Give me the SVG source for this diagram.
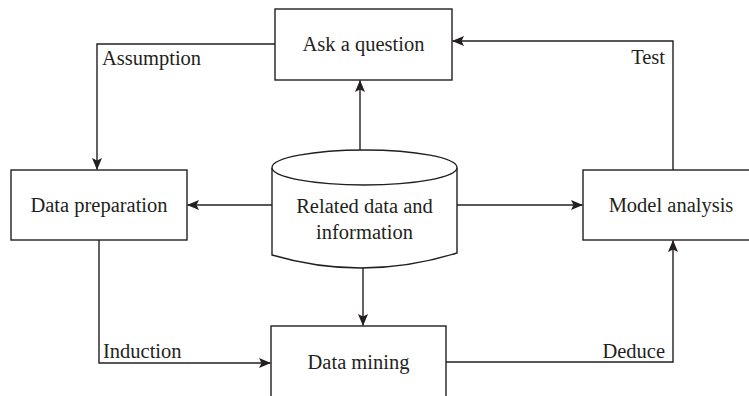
<svg xmlns="http://www.w3.org/2000/svg" width="749" height="396" viewBox="0 0 749 396">
  <style>
    .box { fill: #ffffff; stroke: #231f20; stroke-width: 1.4; }
    .link { fill: none; stroke: #231f20; stroke-width: 1.4; }
    .label { font-family: "Liberation Serif", "Times New Roman", serif; font-size: 20.5px; fill: #231f20; }
    .mid { text-anchor: middle; }
    .end { text-anchor: end; }
  </style>
  <defs>
    <marker id="arrow" viewBox="0 0 12 10" refX="11.5" refY="5" markerWidth="12" markerHeight="10" markerUnits="userSpaceOnUse" orient="auto">
      <path d="M0,0 L12,5 L0,10 L2.5,5 Z" fill="#231f20"/>
    </marker>
  </defs>
  <rect width="749" height="396" fill="#ffffff"/>

  <g id="connectors">
    <!-- Ask a question -> Data preparation (Assumption) -->
    <path class="link" d="M275,44 H97 V169.5" marker-end="url(#arrow)"/>
    <!-- Model analysis -> Ask a question (Test) -->
    <path class="link" d="M673,171 V41 H452.5" marker-end="url(#arrow)"/>
    <!-- Data preparation -> Data mining (Induction) -->
    <path class="link" d="M99,240 V363 H270.5" marker-end="url(#arrow)"/>
    <!-- Data mining -> Model analysis (Deduce) -->
    <path class="link" d="M446,362 H673 V240.5" marker-end="url(#arrow)"/>
    <!-- Related data hub -->
    <path class="link" d="M360,150 V80.5" marker-end="url(#arrow)"/>
    <path class="link" d="M272,205 H187.5" marker-end="url(#arrow)"/>
    <path class="link" d="M457,205 H582.5" marker-end="url(#arrow)"/>
    <path class="link" d="M363,268 V325.5" marker-end="url(#arrow)"/>
    <text class="label" x="102" y="65">Assumption</text>
    <text class="label end" x="665" y="64">Test</text>
    <text class="label" x="103" y="358">Induction</text>
    <text class="label end" x="665" y="358">Deduce</text>
  </g>

  <g id="ask-question">
    <rect class="box" x="275" y="9" width="177" height="71"/>
    <text class="label mid" x="363.5" y="51">Ask a question</text>
  </g>

  <g id="data-preparation">
    <rect class="box" x="11" y="170" width="176" height="70"/>
    <text class="label mid" x="99" y="212">Data preparation</text>
  </g>

  <g id="related-data">
    <path class="box" d="M272,168 V255 Q364,282 457,253 V168"/>
    <ellipse class="box" cx="364.5" cy="167.5" rx="92.5" ry="17.5"/>
    <text class="label mid" x="364.5" y="213">Related data and</text>
    <text class="label mid" x="364.5" y="239">information</text>
  </g>

  <g id="model-analysis">
    <rect class="box" x="583" y="170" width="177" height="70"/>
    <text class="label mid" x="671" y="212">Model analysis</text>
  </g>

  <g id="data-mining">
    <rect class="box" x="271" y="326" width="175" height="80"/>
    <text class="label mid" x="358.5" y="369">Data mining</text>
  </g>
</svg>
